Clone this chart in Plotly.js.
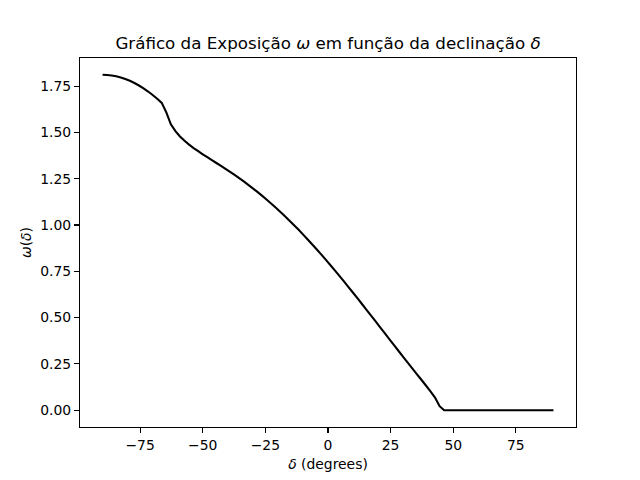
<!DOCTYPE html>
<html>
<head>
<meta charset="utf-8">
<script src="https://cdn.plot.ly/plotly-3.0.1.min.js"></script>
<style>html,body{margin:0;padding:0;background:#fff;}#chart{width:640px;height:480px;}</style>
</head>
<body>
<div id="chart"></div>
<script>
// Declination samples (degrees): 100 evenly spaced points from -90 to 90
const declination = [
  -90.000, -88.182, -86.364, -84.545, -82.727, -80.909, -79.091, -77.273, -75.455, -73.636,
  -71.818, -70.000, -68.182, -66.364, -64.545, -62.727, -60.909, -59.091, -57.273, -55.455,
  -53.636, -51.818, -50.000, -48.182, -46.364, -44.545, -42.727, -40.909, -39.091, -37.273,
  -35.455, -33.636, -31.818, -30.000, -28.182, -26.364, -24.545, -22.727, -20.909, -19.091,
  -17.273, -15.455, -13.636, -11.818, -10.000, -8.182, -6.364, -4.545, -2.727, -0.909,
  0.909, 2.727, 4.545, 6.364, 8.182, 10.000, 11.818, 13.636, 15.455, 17.273,
  19.091, 20.909, 22.727, 24.545, 26.364, 28.182, 30.000, 31.818, 33.636, 35.455,
  37.273, 39.091, 40.909, 42.727, 44.545, 46.364, 48.182, 50.000, 51.818, 53.636,
  55.455, 57.273, 59.091, 60.909, 62.727, 64.545, 66.364, 68.182, 70.000, 71.818,
  73.636, 75.455, 77.273, 79.091, 80.909, 82.727, 84.545, 86.364, 88.182, 90.000
];
// Exposure omega(delta)
const exposure = [
  1.8109, 1.8100, 1.8072, 1.8027, 1.7963, 1.7881, 1.7782, 1.7664, 1.7529, 1.7375,
  1.7205, 1.7017, 1.6812, 1.6590, 1.6081, 1.5436, 1.5063, 1.4779, 1.4544, 1.4339,
  1.4154, 1.3982, 1.3818, 1.3659, 1.3502, 1.3346, 1.3188, 1.3029, 1.2866, 1.2699,
  1.2527, 1.2350, 1.2168, 1.1979, 1.1785, 1.1584, 1.1378, 1.1164, 1.0945, 1.0718,
  1.0486, 1.0247, 1.0002, 0.9751, 0.9494, 0.9232, 0.8964, 0.8690, 0.8412, 0.8128,
  0.7840, 0.7548, 0.7252, 0.6952, 0.6649, 0.6343, 0.6034, 0.5722, 0.5409, 0.5095,
  0.4779, 0.4462, 0.4146, 0.3829, 0.3513, 0.3198, 0.2884, 0.2572, 0.2261, 0.1952,
  0.1644, 0.1335, 0.1019, 0.0682, 0.0217, 0.0000, 0.0000, 0.0000, 0.0000, 0.0000,
  0.0000, 0.0000, 0.0000, 0.0000, 0.0000, 0.0000, 0.0000, 0.0000, 0.0000, 0.0000,
  0.0000, 0.0000, 0.0000, 0.0000, 0.0000, 0.0000, 0.0000, 0.0000, 0.0000, 0.0000
];
const xTickVals = [-75, -50, -25, 0, 25, 50, 75];
const xTickText = ["\u221275", "\u221250", "\u221225", "0", "25", "50", "75"];
const yTickVals = [0, 0.25, 0.5, 0.75, 1.0, 1.25, 1.5, 1.75];

function padRange(arr) {
  const lo = Math.min(...arr), hi = Math.max(...arr);
  const p = (hi - lo) * 0.05;
  return [lo - p, hi + p];
}

const FONT = "DejaVu Sans, sans-serif";

const trace = {
  x: declination,
  y: exposure,
  type: "scatter",
  mode: "lines",
  line: {color: "#000000", width: 2.1, simplify: false, shape: "linear"},
  hoverinfo: "skip",
  showlegend: false
};

const layout = {
  width: 640,
  height: 480,
  margin: {l: 80, r: 64, t: 58, b: 53, pad: 0},
  paper_bgcolor: "#ffffff",
  plot_bgcolor: "#ffffff",
  font: {family: FONT, size: 13.9, color: "#000000"},
  title: {
    text: "Gráfico da Exposição <i>ω</i> em função da declinação <i>δ</i>",
    font: {family: FONT, size: 16.7, color: "#000000"},
    x: 0.5, xref: "paper", xanchor: "center",
    y: 1, yref: "paper", yanchor: "bottom",
    pad: {b: 9}
  },
  xaxis: {
    range: padRange(declination),
    tickmode: "array",
    tickvals: xTickVals,
    ticktext: xTickText,
    ticks: "outside", ticklen: 4.9, tickwidth: 1.1, tickcolor: "#000",
    showline: true, linecolor: "#000", linewidth: 1.1, mirror: true,
    showgrid: false, zeroline: false,
    tickfont: {family: FONT, size: 13.9, color: "#000"},
    title: {text: "<i>δ</i> (degrees)", font: {family: FONT, size: 13.9, color: "#000"}, standoff: 7}
  },
  yaxis: {
    range: padRange(exposure),
    tickmode: "array",
    tickvals: yTickVals,
    tickformat: ".2f",
    ticks: "outside", ticklen: 4.9, tickwidth: 1.1, tickcolor: "#000",
    showline: true, linecolor: "#000", linewidth: 1.1, mirror: true,
    showgrid: false, zeroline: false,
    tickfont: {family: FONT, size: 13.9, color: "#000"},
    title: {text: "<i>ω</i>(<i>δ</i>)", font: {family: FONT, size: 13.9, color: "#000"}, standoff: 5}
  }
};

Plotly.newPlot("chart", [trace], layout, {staticPlot: true, displayModeBar: false});
</script>
</body>
</html>
